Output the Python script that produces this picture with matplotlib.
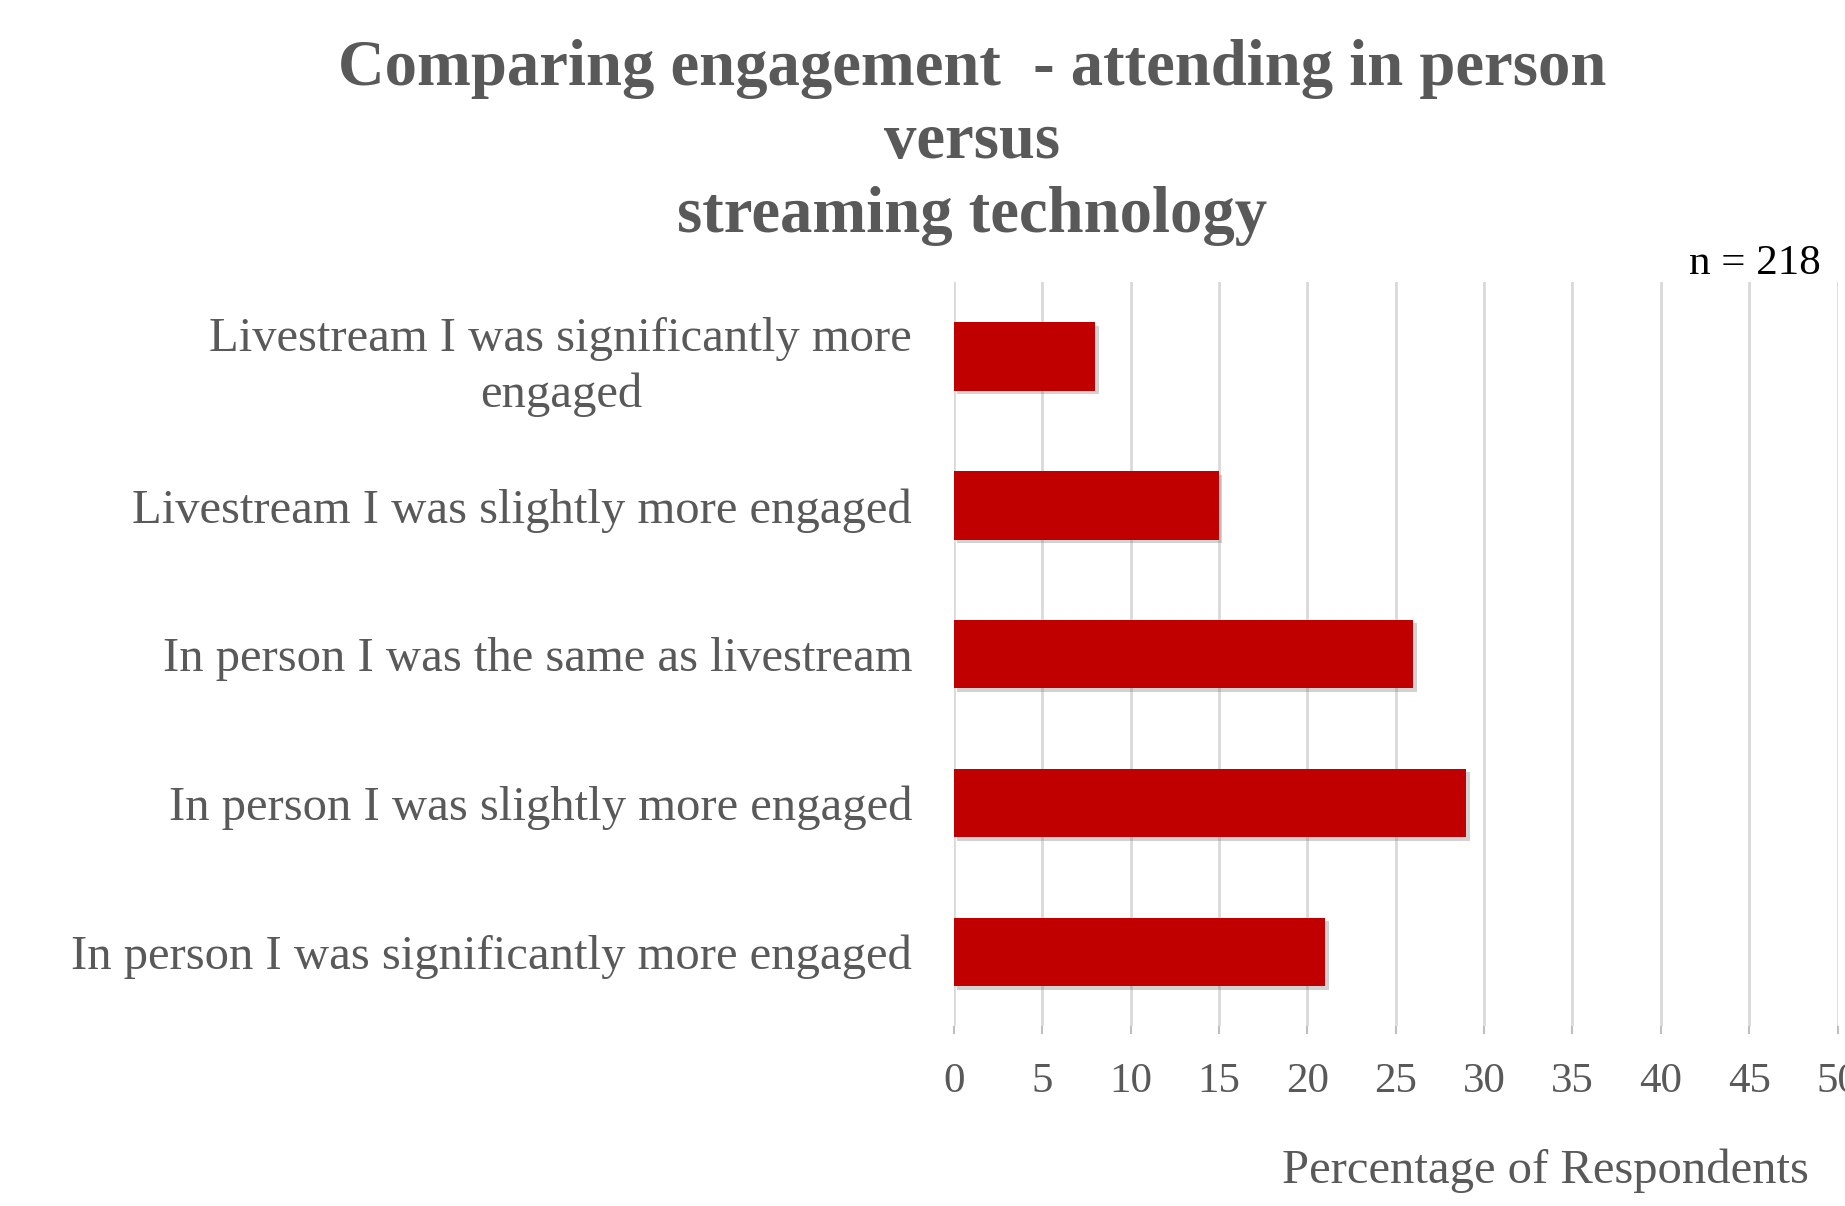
import matplotlib
matplotlib.use('Agg')
import matplotlib.pyplot as plt
import matplotlib.patheffects as pe

categories = ['Livestream I was significantly more\nengaged',
              'Livestream I was slightly more engaged',
              'In person I was the same as livestream',
              'In person I was slightly more engaged',
              'In person I was significantly more engaged']
percent = [8, 15, 26, 29, 21]
xticks = [0, 5, 10, 15, 20, 25, 30, 35, 40, 45, 50]

grey = '#595959'
plt.rcParams['font.family'] = ['Liberation Serif', 'DejaVu Serif']

fig = plt.figure(figsize=(18.45, 12.06), dpi=100)
ax = fig.add_axes([0.517, 0.149, 0.479, 0.617])

ypos = list(range(len(categories)))
bars = ax.barh(ypos, percent, height=0.46, color='#C00000', zorder=3)
for b in bars:
    b.set_path_effects([pe.SimplePatchShadow(offset=(2.5, -2.5), shadow_rgbFace='#7f7f7f', alpha=0.35),
                        pe.Normal()])

ax.set_ylim(len(categories) - 0.5, -0.5)
ax.set_xlim(0, 50)
ax.set_xticks(xticks)
ax.set_yticks(ypos)
ax.set_yticklabels(categories, fontsize=35, color=grey, multialignment='center', linespacing=1.32)
ax.tick_params(axis='y', length=0, pad=30)
ax.tick_params(axis='x', labelsize=31, labelcolor=grey, color='#BFBFBF', length=6, width=1.5, pad=20)
ax.grid(axis='x', color='#D9D9D9', linewidth=2, zorder=0)
for s in ax.spines.values():
    s.set_visible(False)

fig.text(0.527, 0.968, 'Comparing engagement  - attending in person\nversus\nstreaming technology',
         ha='center', va='top', fontsize=46.5, fontweight='bold', color=grey, linespacing=1.3)
fig.text(0.987, 0.773, 'n = 218', ha='right', va='baseline', fontsize=31, color='black')
fig.text(0.8375, 0.019, 'Percentage of Respondents', ha='center', va='baseline', fontsize=35, color=grey)

fig.savefig('out.png', dpi=100)
